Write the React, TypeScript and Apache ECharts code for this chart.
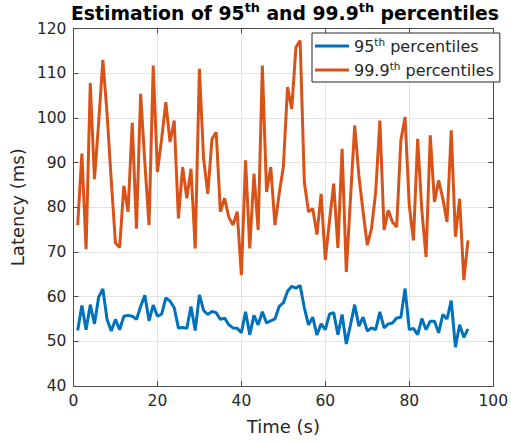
import React, { useEffect, useRef } from "react";
import * as echarts from "echarts";

// Sample times (s), one estimate per second
const times: number[] = Array.from({ length: 94 }, (_, i) => i + 1);

// 95th percentile latency (ms)
const p95: number[] = [
  52.4, 58, 52.6, 58.2, 53.9, 59.9, 61.7, 54.9, 52.3, 54.9,
  52.6, 55.6, 55.8, 55.6, 54.9, 57.8, 60.3, 54.6, 58.1, 55.6,
  56.1, 59.7, 59, 57.5, 53, 53.1, 52.9, 57.8, 52.4, 60.4,
  56.9, 56, 56.7, 56.4, 54.9, 55.2, 53.7, 53, 52.9, 51.9,
  56.6, 51.5, 55.8, 53.7, 56.6, 54.1, 54.6, 55, 57.8, 58.6,
  61.2, 62.3, 61.9, 62.5, 57.5, 53.7, 55.4, 51.4, 53.9, 52.6,
  56.1, 56.4, 51.5, 56, 49.4, 53.7, 58.2, 53.4, 55.4, 52.3,
  53, 52.6, 56.6, 53, 53.9, 54.1, 55.2, 55.4, 61.8, 52.6,
  52.9, 51.5, 55.1, 52.6, 54.5, 54.5, 51.9, 56, 55, 59.1,
  48.7, 53.7, 50.9, 52.8,
];

// 99.9th percentile latency (ms)
const p999: number[] = [
  76, 92, 70.6, 107.8, 86.3, 99, 113, 101, 86, 72,
  71, 84.8, 79, 98.9, 75.2, 105.4, 90, 76, 111.7, 87.9,
  95.3, 103.5, 94.6, 99.4, 77.5, 89, 82, 88.6, 70.8, 111,
  90.9, 83, 95.3, 96.8, 79, 82, 77.8, 76, 79, 64.8,
  90.5, 70.8, 87.5, 74.9, 111.7, 83.4, 89, 76, 83, 89,
  106.9, 102, 115.8, 117.3, 85.6, 79, 79.7, 73.9, 83, 68.2,
  77, 85.3, 70.9, 93.1, 65.5, 82, 98.3, 87, 79, 71.5,
  75.2, 83.4, 99.4, 74.9, 79.3, 76.7, 75.6, 95, 100.2, 80.4,
  72.6, 95.3, 79.3, 68.9, 96.1, 81.2, 86, 81.9, 76.7, 97.2,
  73.4, 81.9, 63.7, 72.6,
];

const seriesNames = ["95th percentiles", "99.9th percentiles"];
const seriesColors = ["#0072BD", "#D95319"];

const FONT = "DejaVu Sans";
const INK = "#262626";
const BOX = "#4d4d4d";

const withSup = (s: string) => s.replace(/th/g, "{sup|th}");

export default function App() {
  const ref = useRef<HTMLDivElement>(null);

  useEffect(() => {
    if (!ref.current) return;
    const chart = echarts.init(ref.current, undefined, { renderer: "svg" });

    const axisLine = { show: true, onZero: false, lineStyle: { color: BOX, width: 1 } };
    const axisTick = { show: true, inside: true, length: 5, lineStyle: { color: BOX } };

    chart.setOption({
      animation: false,
      backgroundColor: "#fff",
      title: {
        text: "Estimation of 95{sup|th} and 99.9{sup|th} percentiles",
        left: 71,
        top: 1,
        padding: 0,
        textStyle: {
          fontFamily: FONT,
          fontSize: 18.8,
          fontWeight: "bold",
          color: "#000",
          lineHeight: 24,
          rich: {
            sup: {
              fontFamily: FONT,
              fontSize: 12.8,
              fontWeight: "bold",
              color: "#000",
              lineHeight: 12,
              verticalAlign: "top",
            },
          },
        },
      },
      legend: {
        orient: "vertical",
        left: 312,
        top: 33,
        padding: [3, 6, 2, 3],
        itemGap: 4,
        itemWidth: 34,
        itemHeight: 3,
        backgroundColor: "#fff",
        borderColor: INK,
        borderWidth: 1,
        borderRadius: 0,
        data: seriesNames.map((n) => ({ name: n, icon: "rect" })),
        formatter: (name: string) => withSup(name),
        textStyle: {
          fontFamily: FONT,
          fontSize: 16,
          color: INK,
          lineHeight: 20,
          rich: {
            sup: {
              fontFamily: FONT,
              fontSize: 10.5,
              color: INK,
              lineHeight: 10,
              verticalAlign: "top",
            },
          },
        },
      },
      grid: { left: 70, right: 16, top: 28.5, bottom: 57, containLabel: false },
      xAxis: [
        {
          type: "value",
          min: 0,
          max: 100,
          interval: 20,
          position: "bottom",
          axisLine,
          axisTick,
          axisLabel: { margin: 7, fontFamily: FONT, fontSize: 15.5, color: INK },
          splitLine: { show: true, lineStyle: { color: "#e3e3e3", width: 1 } },
          name: "Time (s)",
          nameLocation: "middle",
          nameGap: 31,
          nameTextStyle: { fontFamily: FONT, fontSize: 18, color: INK },
        },
        {
          type: "value",
          min: 0,
          max: 100,
          interval: 20,
          position: "top",
          axisLine,
          axisTick,
          axisLabel: { show: false },
          splitLine: { show: false },
        },
      ],
      yAxis: [
        {
          type: "value",
          min: 40,
          max: 120,
          interval: 10,
          position: "left",
          axisLine,
          axisTick,
          axisLabel: { margin: 7, fontFamily: FONT, fontSize: 15.5, color: INK },
          splitLine: { show: true, lineStyle: { color: "#e3e3e3", width: 1 } },
          name: "Latency (ms)",
          nameLocation: "middle",
          nameGap: 40,
          nameTextStyle: { fontFamily: FONT, fontSize: 18, color: INK },
        },
        {
          type: "value",
          min: 40,
          max: 120,
          interval: 10,
          position: "right",
          axisLine,
          axisTick,
          axisLabel: { show: false },
          splitLine: { show: false },
        },
      ],
      series: [
        {
          name: seriesNames[0],
          type: "line",
          xAxisIndex: 0,
          yAxisIndex: 0,
          data: times.map((t, i) => [t, p95[i]]),
          showSymbol: false,
          symbol: "none",
          color: seriesColors[0],
          lineStyle: { width: 3, color: seriesColors[0] },
        },
        {
          name: seriesNames[1],
          type: "line",
          xAxisIndex: 0,
          yAxisIndex: 0,
          data: times.map((t, i) => [t, p999[i]]),
          showSymbol: false,
          symbol: "none",
          color: seriesColors[1],
          lineStyle: { width: 3, color: seriesColors[1] },
        },
      ],
    });

    return () => chart.dispose();
  }, []);

  return (
    <div
      ref={ref}
      style={{ position: "fixed", left: 0, top: 0, width: 511, height: 443, background: "#fff" }}
    />
  );
}
